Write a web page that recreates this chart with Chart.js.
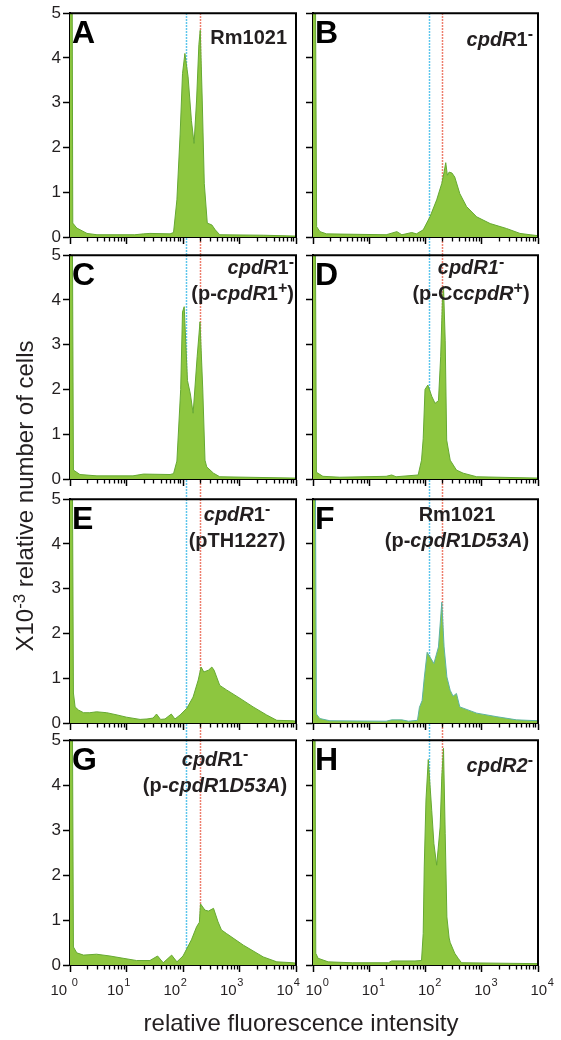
<!DOCTYPE html>
<html><head><meta charset="utf-8">
<script src="https://cdn.jsdelivr.net/npm/chart.js@4.4.1/dist/chart.umd.min.js"></script>
<style>
html,body{margin:0;padding:0;background:#fff;}
body{width:561px;height:1040px;position:relative;overflow:hidden;font-family:'Liberation Sans',Arial,Helvetica,sans-serif;color:#231f20;}
canvas{position:absolute;}
.lbl{position:absolute;font-weight:bold;font-size:20px;line-height:26px;white-space:nowrap;}
.lbl sup{font-size:0.8em;line-height:0;vertical-align:0.45em;}
.let{position:absolute;font-weight:bold;font-size:32px;line-height:32px;color:#000;}
.title{position:absolute;font-size:24px;line-height:24px;white-space:nowrap;text-align:center;}
.title sup{font-size:0.7em;line-height:0;vertical-align:0.5em;}
</style></head><body>
<script>
// ---------- data ----------
const panelIds = ['A','B','C','D','E','F','G','H'];

const xA = [1, 1.08, 1.12, 1.32, 2, 3, 14, 20, 26, 59, 68, 78, 89, 98, 108, 123, 141, 157, 174, 191, 202, 219, 238, 269, 324, 372, 447, 2630, 10000];
const yA = [8, 8, 0.31, 0.2, 0.08, 0.05, 0.05, 0.07, 0.08, 0.07, 0.1, 0.83, 2.3, 3.65, 4.1, 3.58, 2.6, 2.09, 3.06, 4.3, 4.62, 3.06, 1.2, 0.31, 0.27, 0.16, 0.05, 0.04, 0.02];

const xB = [1, 1.08, 1.16, 1.33, 1.74, 20, 31, 38, 57, 69, 91, 120, 158, 195, 214, 229, 245, 263, 295, 331, 407, 537, 813, 1413, 2754, 4786, 7244, 10000];
const yB = [8, 8, 0.23, 0.12, 0.07, 0.05, 0.12, 0.05, 0.1, 0.07, 0.16, 0.45, 0.83, 1.2, 1.45, 1.66, 1.38, 1.45, 1.43, 1.34, 0.97, 0.68, 0.45, 0.3, 0.19, 0.08, 0.05, 0.03];

const xC = [1, 1.08, 1.15, 1.5, 3, 13, 20, 59, 68, 78, 91, 98, 105, 120, 135, 151, 178, 200, 224, 245, 263, 347, 447, 10000];
const yC = [8, 8, 0.2, 0.1, 0.07, 0.07, 0.11, 0.1, 0.12, 0.4, 2.0, 3.73, 3.85, 2.2, 1.9, 1.47, 2.73, 3.51, 1.99, 0.42, 0.27, 0.13, 0.05, 0.02];

const xD = [1, 1.08, 1.15, 1.5, 3, 20, 25, 30, 74, 85, 91, 98, 110, 129, 148, 170, 186, 200, 209, 224, 238, 275, 355, 468, 813, 10000];
const yD = [8, 8, 0.15, 0.06, 0.04, 0.06, 0.09, 0.05, 0.09, 0.42, 0.9, 2.0, 2.1, 1.85, 1.69, 1.75, 2.73, 4.0, 4.3, 3.1, 0.87, 0.42, 0.2, 0.13, 0.05, 0.02];

const xE = [1, 1.08, 1.15, 1.23, 1.41, 1.74, 2.24, 2.95, 4.47, 6.8, 10, 17.4, 23, 29.5, 34, 40, 48, 62, 72, 89, 117, 151, 186, 209, 234, 282, 324, 355, 447, 589, 1023, 1738, 3020, 4571, 8913, 10000];
const yE = [8, 8, 0.67, 0.36, 0.29, 0.23, 0.23, 0.25, 0.23, 0.18, 0.13, 0.08, 0.09, 0.11, 0.2, 0.08, 0.09, 0.2, 0.09, 0.18, 0.33, 0.58, 0.96, 1.25, 1.14, 1.18, 1.25, 1.18, 0.84, 0.74, 0.55, 0.36, 0.18, 0.06, 0.05, 0.04];

const xF = [1, 1.08, 1.15, 1.32, 2, 20, 25, 38, 50, 72, 78, 87, 95, 107, 141, 170, 195, 214, 240, 275, 309, 355, 407, 813, 1862, 4169, 10000];
const yF = [8, 8, 0.2, 0.1, 0.05, 0.04, 0.07, 0.07, 0.04, 0.06, 0.35, 0.5, 1.0, 1.58, 1.33, 1.7, 2.7, 1.7, 1.03, 0.73, 0.6, 0.66, 0.36, 0.22, 0.14, 0.07, 0.05];

const xG = [1, 1.08, 1.15, 1.32, 1.74, 2.95, 5.1, 8.7, 15, 26, 35.5, 44.7, 63, 78, 100, 141, 174, 195, 204, 245, 282, 347, 417, 479, 589, 1175, 2630, 4571, 8913, 10000];
const yG = [8, 8, 0.4, 0.27, 0.22, 0.24, 0.2, 0.15, 0.1, 0.1, 0.2, 0.05, 0.22, 0.07, 0.2, 0.56, 0.85, 0.95, 1.36, 1.22, 1.2, 1.26, 0.96, 0.78, 0.7, 0.44, 0.18, 0.07, 0.05, 0.04];

const xH = [1, 1.07, 1.12, 1.23, 1.86, 5, 22, 25, 65, 85, 91, 95, 102, 112, 129, 141, 158, 182, 195, 209, 224, 240, 263, 275, 331, 380, 437, 10000];
const yH = [8, 8, 0.26, 0.15, 0.07, 0.05, 0.05, 0.09, 0.09, 0.1, 0.7, 2.18, 3.67, 4.57, 3.44, 2.7, 2.22, 3.07, 4.2, 4.82, 2.93, 1.07, 0.6, 0.5, 0.26, 0.15, 0.05, 0.03];

const panelX = [xA, xB, xC, xD, xE, xF, xG, xH];
const panelY = [yA, yB, yC, yD, yE, yF, yG, yH];

// gate lines (fluorescence values), per column [left, right]
const gateCyan = [113, 117];
const gateRed = [200, 199];

// ticks
const yTicks = [0, 1, 2, 3, 4, 5];
const xMajorTicks = [1, 10, 100, 1000, 10000];
const xMinorTicks = [2,3,4,5,6,7,8,9, 20,30,40,50,60,70,80,90, 200,300,400,500,600,700,800,900, 2000,3000,4000,5000,6000,7000,8000,9000];
const xTickBaseLeft = ['10 ', '10', '10', '10', '10'];
const xTickBaseRight = ['10', '10', '10', '10', '10'];
const xTickExp = ['0', '1', '2', '3', '4'];

// ---------- layout ----------
const panelTops = [13, 255, 499, 740];
const panelBottoms = [237, 479, 723, 965];
const colLeft = [70, 313];
const colRight = [296, 538];
const FONT = "'Liberation Sans', Arial, Helvetica, sans-serif";
Chart.defaults.font.family = FONT;

function build(idx) {
  const col = idx % 2, row = Math.floor(idx / 2);
  const padTop = 12;
  const top = panelTops[row], bottom = panelBottoms[row];
  const below = row < 3 ? panelTops[row + 1] - bottom : 45;
  const cLeft = col === 0 ? 0 : 300;
  const cWidth = col === 0 ? 300 : 261;
  const cTop = top - padTop;
  const cHeight = padTop + (bottom - top) + below;
  const canvas = document.createElement('canvas');
  canvas.style.left = cLeft + 'px'; canvas.style.top = cTop + 'px';
  canvas.style.width = cWidth + 'px'; canvas.style.height = cHeight + 'px';
  canvas.width = cWidth; canvas.height = cHeight;
  document.body.appendChild(canvas);
  const yAxisW = colLeft[col] - cLeft;
  const padRight = cLeft + cWidth - colRight[col];
  const xs = panelX[idx], ys = panelY[idx];
  const isF = panelIds[idx] === 'F';

  const decor = {
    id: 'decor' + idx,
    beforeDatasetsDraw(chart) {
      const {ctx, chartArea: a, scales} = chart;
      ctx.save();
      ctx.lineWidth = 1.5;
      ctx.setLineDash([1.5, 1.5]);
      [[gateCyan[col], '#2ab4e6'], [gateRed[col], '#e8553f']].forEach(([v, c]) => {
        const px = Math.round(scales.x.getPixelForValue(v)) + 0.5;
        ctx.strokeStyle = c;
        ctx.beginPath();
        ctx.moveTo(px, a.top);
        ctx.lineTo(px, row < 3 ? a.bottom + below : a.bottom);
        ctx.stroke();
      });
      ctx.restore();
    },
    afterDraw(chart) {
      const {ctx, chartArea: a, scales} = chart;
      ctx.save();
      ctx.strokeStyle = '#000';
      ctx.lineWidth = 2;
      ctx.beginPath();
      ctx.moveTo(a.left, a.top); ctx.lineTo(a.right, a.top); ctx.lineTo(a.right, a.bottom);
      ctx.stroke();
      ctx.lineWidth = 1.3;
      ctx.beginPath();
      xMinorTicks.forEach(v => {
        const px = Math.round(scales.x.getPixelForValue(v)) + 0.5;
        ctx.moveTo(px, a.bottom); ctx.lineTo(px, a.bottom + 4.5);
      });
      ctx.stroke();
      if (row === 3) {
        ctx.fillStyle = '#231f20';
        ctx.textBaseline = 'alphabetic';
        ctx.textAlign = 'left';
        const baseY = a.bottom + 30;
        xMajorTicks.forEach((v, i) => {
          const px = scales.x.getPixelForValue(v);
          const base = col === 0 ? xTickBaseLeft[i] : xTickBaseRight[i];
          const x0 = px + (col === 0 ? -19.5 : -7.5);
          ctx.font = '15px ' + FONT;
          ctx.fillText(base, x0, baseY);
          const w = ctx.measureText(base).width;
          ctx.font = '11px ' + FONT;
          ctx.fillText(xTickExp[i], x0 + w + 0.5, baseY - 9);
        });
      }
      ctx.restore();
    }
  };

  new Chart(canvas, {
    type: 'line',
    data: {
      datasets: [{
        data: xs.map((x, i) => ({x: x, y: ys[i]})),
        fill: 'origin',
        backgroundColor: '#8dc63f',
        borderColor: isF ? '#5db3a2' : '#66a933',
        borderWidth: 1,
        pointRadius: 0,
        tension: 0
      }]
    },
    options: {
      responsive: false, animation: false, devicePixelRatio: 1,
      layout: {padding: {top: padTop, right: padRight, left: 0, bottom: 0}},
      plugins: {legend: {display: false}, tooltip: {enabled: false}},
      scales: {
        x: {
          type: 'logarithmic', min: 1, max: 10000, z: 1,
          afterBuildTicks: s => { s.ticks = xMajorTicks.map(v => ({value: v})); },
          afterFit: s => { s.height = below; },
          grid: {drawOnChartArea: false, drawTicks: true, tickLength: 7, tickColor: '#000', tickWidth: 1.5},
          border: {display: true, color: '#000', width: 2},
          ticks: {display: false}
        },
        y: {
          min: 0, max: 5, z: 1,
          afterBuildTicks: s => { s.ticks = yTicks.map(v => ({value: v})); },
          afterFit: s => { s.width = yAxisW; },
          grid: {drawOnChartArea: false, drawTicks: true, tickLength: 7, tickColor: '#000', tickWidth: 1.5},
          border: {display: true, color: '#000', width: 2},
          ticks: {display: true, padding: 2, color: '#231f20', font: {size: 17},
                  callback: v => col === 0 ? String(v) : ''}
        }
      }
    },
    plugins: [decor]
  });
}
for (let i = 0; i < 8; i++) build(i);

// ---------- text overlays ----------
function addDiv(cls, html, style) {
  const d = document.createElement('div');
  d.className = cls; d.innerHTML = html;
  Object.assign(d.style, style);
  document.body.appendChild(d);
  return d;
}
panelIds.forEach((id, i) => {
  const col = i % 2, row = Math.floor(i / 2);
  addDiv('let', id, {left: (colLeft[col] + 2) + 'px', top: (panelTops[row] + 3) + 'px'});
});
addDiv('lbl', 'Rm1021', {right: '274px', top: '24px', textAlign: 'right'});
addDiv('lbl', '<i>cpdR</i>1<sup>-</sup>', {right: '28px', top: '26px', textAlign: 'right'});
addDiv('lbl', '<i>cpdR</i>1<sup>-</sup><br>(p-<i>cpdR</i>1<sup>+</sup>)', {right: '267px', top: '254px', textAlign: 'right'});
addDiv('lbl', '<i>cpdR1</i><sup>-</sup><br>(p-Cc<i>cpdR</i><sup>+</sup>)', {left: '371px', width: '200px', top: '254px', textAlign: 'center'});
addDiv('lbl', '<i>cpdR</i>1<sup>-</sup><br>(pTH1227)', {left: '137px', width: '200px', top: '501px', textAlign: 'center'});
addDiv('lbl', 'Rm1021<br>(p-<i>cpdR</i>1<i>D53A</i>)', {left: '357px', width: '200px', top: '501px', textAlign: 'center'});
addDiv('lbl', '<i>cpdR</i>1<sup>-</sup><br>(p-<i>cpdR</i>1<i>D53A</i>)', {left: '115px', width: '200px', top: '746px', textAlign: 'center'});
addDiv('lbl', '<i>cpdR2</i><sup>-</sup>', {right: '28px', top: '752px', textAlign: 'right'});

addDiv('title', 'X10<sup>-3</sup> relative number of cells',
  {left: '-225px', top: '484px', width: '500px', transform: 'rotate(-90deg)'});
addDiv('title', 'relative fluorescence intensity',
  {left: '51px', top: '1011px', width: '500px'});
</script>
</body></html>
